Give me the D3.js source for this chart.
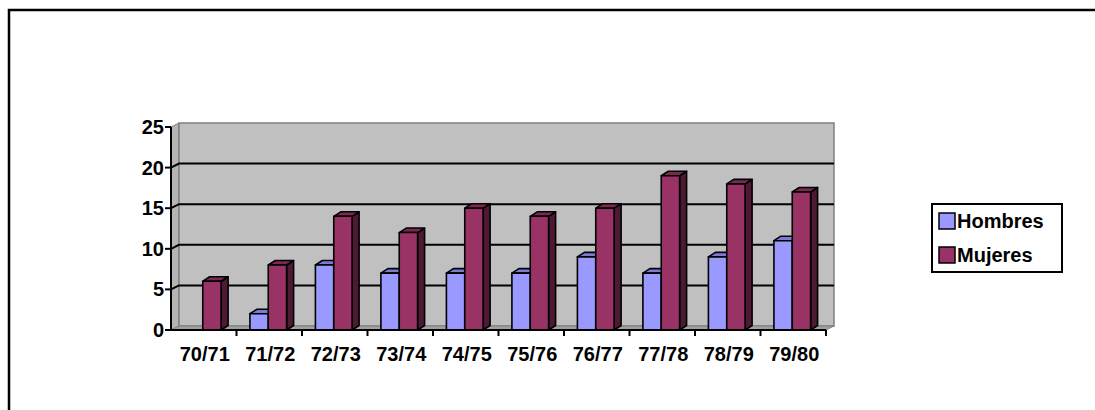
<!DOCTYPE html>
<html><head><meta charset="utf-8">
<script src="https://cdn.jsdelivr.net/npm/d3@7"></script>
<style>
html,body{margin:0;padding:0;background:#fff;}
svg{display:block;font-family:"Liberation Sans",Arial,sans-serif;}
</style></head>
<body>
<svg id="c" width="1095" height="410"></svg>
<script>
const categories = ["70/71","71/72","72/73","73/74","74/75","75/76","76/77","77/78","78/79","79/80"];
const hombres = [0,2,8,7,7,7,9,7,9,11];
const mujeres = [6,8,14,12,15,14,15,19,18,17];
const seriesNames = ["Hombres","Mujeres"];
const yTicks = [0,5,10,15,20,25];

const svg = d3.select("#c");
// outer frame
svg.append("rect").attr("x",9).attr("y",10).attr("width",1200).attr("height",500)
  .attr("fill","#fff").attr("stroke","#000").attr("stroke-width",2.5);

const x0 = 171, x1 = 826, yBase = 330, yTop = 127;
const x = d3.scaleBand().domain(categories).range([x0,x1]);
const y = d3.scaleLinear().domain([0,25]).range([yBase,yTop]);
const wdx = 8, wdy = -4;   // wall depth
const bdx = 7, bdy = -4.5; // bar depth

const g = svg.append("g");
// side wall
g.append("polygon").attr("points",[[x0,y(25)],[x0+wdx,y(25)+wdy],[x0+wdx,yBase+wdy],[x0,yBase]].join(" "))
  .attr("fill","#b4b4b4").attr("stroke","#808080").attr("stroke-width",1);
// back wall
g.append("polygon").attr("points",[[x0+wdx,y(25)+wdy],[x1+wdx,y(25)+wdy],[x1+wdx,yBase+wdy],[x0+wdx,yBase+wdy]].join(" "))
  .attr("fill","#c0c0c0").attr("stroke","#808080").attr("stroke-width",1.5);
// floor
g.append("polygon").attr("points",[[x0,yBase],[x0+wdx,yBase+wdy],[x1+wdx,yBase+wdy],[x1,yBase]].join(" "))
  .attr("fill","#a0a0a0").attr("stroke","#808080").attr("stroke-width",1);
// gridlines
yTicks.filter(v=>v>0 && v<25).forEach(v=>{
  g.append("path").attr("d",`M${x0},${y(v)}L${x0+wdx},${y(v)+wdy}L${x1+wdx},${y(v)+wdy}`)
   .attr("fill","none").attr("stroke","#000").attr("stroke-width",2);
});

// bars
const bw = x.bandwidth()*0.28;
const colors = {
  Hombres:{front:"#9999ff", top:"#7b7bd6", side:"#5c5ca6"},
  Mujeres:{front:"#993366", top:"#7a2952", side:"#4d1933"}
};
categories.forEach((c,i)=>{
  const cx = x(c) + x.bandwidth()/2 - 1;
  [[hombres[i],"Hombres",cx-bw],[mujeres[i],"Mujeres",cx]].forEach(([v,name,bx])=>{
    if(v<=0) return;
    const col = colors[name];
    const yt = y(v);
    const bg = g.append("g").attr("stroke","#000").attr("stroke-width",1.6).attr("stroke-linejoin","round");
    bg.append("polygon").attr("points",[[bx+bw,yt],[bx+bw+bdx,yt+bdy],[bx+bw+bdx,yBase+bdy],[bx+bw,yBase]].join(" ")).attr("fill",col.side);
    bg.append("polygon").attr("points",[[bx,yt],[bx+bdx,yt+bdy],[bx+bw+bdx,yt+bdy],[bx+bw,yt]].join(" ")).attr("fill",col.top);
    bg.append("rect").attr("x",bx).attr("y",yt).attr("width",bw).attr("height",yBase-yt).attr("fill",col.front);
  });
});

// axes
const ax = svg.append("g").attr("stroke","#000").attr("stroke-width",2);
ax.append("line").attr("x1",x0).attr("x2",x0).attr("y1",y(25)).attr("y2",yBase+1);
ax.append("line").attr("x1",x0-1).attr("x2",x1).attr("y1",yBase).attr("y2",yBase);
yTicks.forEach(v=>ax.append("line").attr("x1",x0-6).attr("x2",x0).attr("y1",y(v)).attr("y2",y(v)));
categories.forEach((c,i)=>{
  const xx = x(c)+x.bandwidth();
  ax.append("line").attr("x1",xx).attr("x2",xx).attr("y1",yBase).attr("y2",yBase+6);
});

// labels
const tl = svg.append("g").attr("font-weight","bold").attr("font-size",20).attr("fill","#000");
yTicks.forEach(v=>tl.append("text").attr("x",x0-7).attr("y",y(v)+7).attr("text-anchor","end").text(v));
categories.forEach(c=>tl.append("text").attr("x",x(c)+x.bandwidth()/2+1).attr("y",361).attr("text-anchor","middle").text(c));

// legend
const lg = svg.append("g");
lg.append("rect").attr("x",932).attr("y",204).attr("width",130).attr("height",68)
  .attr("fill","#fff").attr("stroke","#000").attr("stroke-width",2);
seriesNames.forEach((s,i)=>{
  const yy = 213 + i*34;
  lg.append("rect").attr("x",939).attr("y",yy).attr("width",16).attr("height",16)
    .attr("fill",colors[s].front).attr("stroke","#000").attr("stroke-width",1.5);
  lg.append("text").attr("x",957).attr("y",yy+15).attr("font-weight","bold").attr("font-size",20).text(s);
});
</script>
</body></html>
